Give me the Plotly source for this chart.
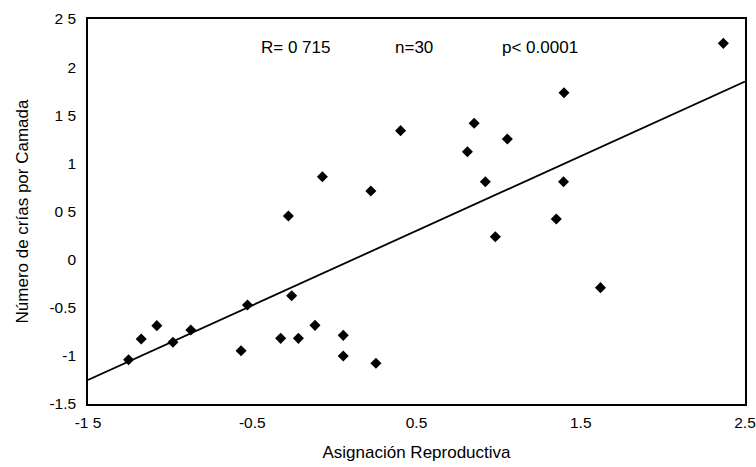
import plotly.graph_objects as go

# Data
asignacion = [-1.253, -1.176, -1.081, -0.983, -0.874,
              -0.529, -0.568, -0.260, -0.327, -0.219, -0.118, 0.054, 0.054, 0.253,
              0.403, 0.851, 0.810, 1.053, 0.919, 1.395, 1.351, 0.980, 1.620,
              -0.280, -0.073, 0.222, 2.368, 1.398]
crias = [-1.04, -0.825, -0.686, -0.859, -0.731,
         -0.471, -0.946, -0.375, -0.818, -0.818, -0.683, -0.787, -1.001, -1.077,
         1.340, 1.416, 1.121, 1.253, 0.810, 0.810, 0.422, 0.238, -0.291,
         0.453, 0.862, 0.713, 2.247, 1.734]

fit_x = [-1.5, 2.5]
fit_y = [-1.25, 1.85]

x_tickvals = [-1.5, -0.5, 0.5, 1.5, 2.5]
x_ticktext = ["-1 5", "-0.5", "0.5", "1.5", "2.5"]
y_tickvals = [2.5, 2, 1.5, 1, 0.5, 0, -0.5, -1, -1.5]
y_ticktext = ["2 5", "2", "1 5", "1", "0 5", "0", "-0.5", "-1", "-1.5"]

stats_text = ["R= 0 715", "n=30", "p< 0.0001"]
stats_x = [-0.234, 0.485, 1.252]
stats_y = 2.209

font_family = "Liberation Sans, Arial, sans-serif"

fig = go.Figure()
fig.add_trace(go.Scatter(x=fit_x, y=fit_y, mode="lines",
                         line=dict(color="black", width=1.8),
                         showlegend=False, hoverinfo="skip"))
fig.add_trace(go.Scatter(x=asignacion, y=crias, mode="markers",
                         marker=dict(symbol="diamond", size=8.5, color="black"),
                         showlegend=False))

for t, xx in zip(stats_text, stats_x):
    fig.add_annotation(x=xx, y=stats_y, text=t, showarrow=False,
                       font=dict(family=font_family, size=17, color="black"))

fig.update_layout(
    width=756, height=467,
    margin=dict(l=88, r=11, t=19, b=63),
    paper_bgcolor="white", plot_bgcolor="white",
    font=dict(family=font_family, size=15.5, color="black"),
    xaxis=dict(range=[-1.5, 2.5], tickvals=x_tickvals, ticktext=x_ticktext,
               showgrid=False, zeroline=False, showline=True, mirror=True,
               linecolor="black", linewidth=1.6, ticks="",
               ticklabelstandoff=4, automargin=False,
               title=dict(text="Asignación Reproductiva", standoff=16,
                          font=dict(size=17))),
    yaxis=dict(range=[-1.5, 2.5], tickvals=y_tickvals, ticktext=y_ticktext,
               showgrid=False, zeroline=False, showline=True, mirror=True,
               linecolor="black", linewidth=1.6, ticks="",
               ticklabelstandoff=7, automargin=False,
               title=dict(text="Número de crías por Camada", standoff=16,
                          font=dict(size=17))),
)

fig.write_html("out.html", config={"displayModeBar": False},
               post_script="document.body.style.margin='0';")
